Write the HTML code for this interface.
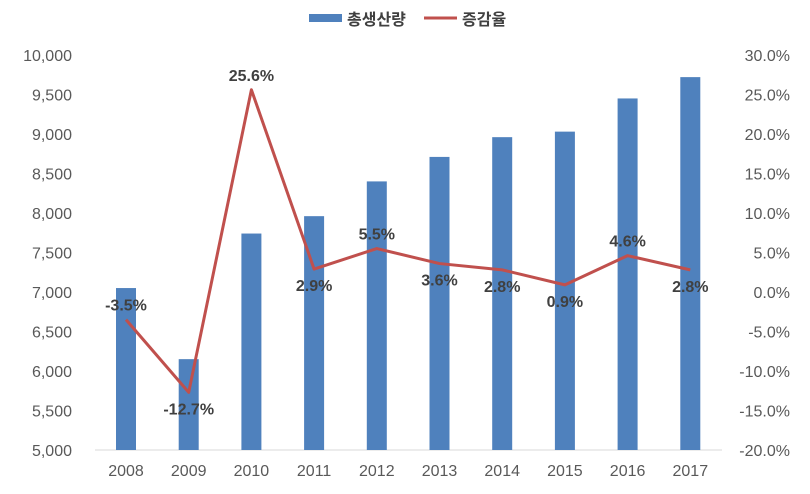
<!DOCTYPE html>
<html><head><meta charset="utf-8">
<style>
body{margin:0;background:#fff;}
svg text{font-family:"Liberation Sans","Noto Sans CJK KR",sans-serif;}
</style></head>
<body>
<svg id="chart" width="810" height="489" xmlns="http://www.w3.org/2000/svg">
<g id="legend">
  <rect x="309" y="14" width="33" height="8" fill="#4f81bd"/>
  <text x="347" y="25" font-size="16" font-weight="bold" fill="#404040">총생산량</text>
  <line x1="424" y1="18" x2="457" y2="18" stroke="#c0504d" stroke-width="3"/>
  <text x="462" y="25" font-size="16" font-weight="bold" fill="#404040">증감율</text>
</g>
<line x1="95" y1="450" x2="722" y2="450" stroke="#d9d9d9" stroke-width="1"/>
<g id="yl"></g>
<g id="yr"></g>
<g id="xa"></g>
<g id="bars"></g>
<g id="line"></g>
<g id="labels"></g>
</svg>
<script>
const years=["2008","2009","2010","2011","2012","2013","2014","2015","2016","2017"];
const production=[7050,6150,7740,7960,8400,8710,8960,9030,9450,9720];
const growth=[-3.5,-12.7,25.6,2.9,5.5,3.6,2.8,0.9,4.6,2.8];
const growthLabels=["-3.5%","-12.7%","25.6%","2.9%","5.5%","3.6%","2.8%","0.9%","4.6%","2.8%"];
const labelAbove=[true,false,true,false,true,false,false,false,true,false];
const leftTicks=[5000,5500,6000,6500,7000,7500,8000,8500,9000,9500,10000];
const rightTicks=[-20,-15,-10,-5,0,5,10,15,20,25,30];
const NS="http://www.w3.org/2000/svg";
const plotTop=55,plotBot=450;
const yL=v=>plotBot-(v-5000)/5000*(plotBot-plotTop);
const yR=v=>plotBot-(v+20)/50*(plotBot-plotTop);
const xC=i=>126+i*62.7;
function mk(tag,attrs,parent,text){const e=document.createElementNS(NS,tag);for(const k in attrs)e.setAttribute(k,attrs[k]);if(text!==undefined)e.textContent=text;parent.appendChild(e);return e;}
const yl=document.getElementById('yl'),yr=document.getElementById('yr'),xa=document.getElementById('xa');
leftTicks.forEach(t=>{const e=mk('text',{x:72,y:yL(t)+6,'text-anchor':'end','font-size':16,fill:'#595959'},yl,t.toLocaleString('en-US'));

});
rightTicks.forEach(t=>{const e=mk('text',{x:790,y:yR(t)+6,'text-anchor':'end','font-size':16,fill:'#595959'},yr,t.toFixed(1)+'%');

});
years.forEach((y,i)=>{const e=mk('text',{x:xC(i),y:476,'text-anchor':'middle','font-size':16,fill:'#595959'},xa,y);

});
const bars=document.getElementById('bars');
production.forEach((v,i)=>{const e=mk('rect',{x:xC(i)-10,y:yL(v),width:20,height:plotBot-yL(v),fill:'#4f81bd'},bars);

});
const line=document.getElementById('line');
const pl=mk('polyline',{points:growth.map((v,i)=>xC(i)+','+yR(v)).join(' '),fill:'none',stroke:'#c0504d','stroke-width':3,'stroke-linejoin':'round'},line);


const labels=document.getElementById('labels');
growth.forEach((v,i)=>{const y=labelAbove[i]?yR(v)-9:yR(v)+22;
const e=mk('text',{x:xC(i),y:y,'text-anchor':'middle','font-size':16,'font-weight':'bold',fill:'#404040'},labels,growthLabels[i]);

});
</script>
</body></html>
